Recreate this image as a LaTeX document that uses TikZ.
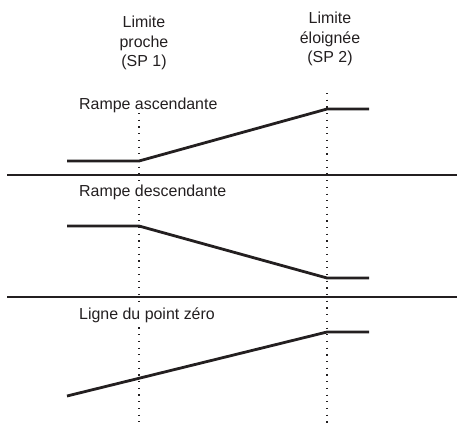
\documentclass[tikz,border=0pt]{standalone}
\usepackage{fontspec}
\setmainfont{Liberation Sans}
\usepackage{xcolor}
\usepackage{tikz}
\usetikzlibrary{positioning}
\definecolor{ink}{HTML}{231F20}

\begin{document}
\begin{tikzpicture}[x=1bp,y=-1bp, color=ink, font=\fontsize{16}{19.5}\selectfont]
	\tikzstyle{ramp}=[line width=2.8bp, line join=round]
	\tikzstyle{guide}=[line width=1.3bp, dash pattern=on 1.2bp off 5.5bp]
	\tikzstyle{sep}=[line width=1.2bp]
	\tikzstyle{lbl}=[anchor=west, fill=white, inner sep=1bp]
	\tikzstyle{hdr}=[align=center, inner sep=0pt]
	\useasboundingbox (0,0) rectangle (457,428);

	% the two limits
	\node[hdr] (near) at (144,43) {Limite\\proche\\(SP 1)};
	\node[hdr] (far) at (330,39) {Limite\\éloignée\\(SP 2)};
	\coordinate (n1) at (139,113);
	\coordinate (n2) at (139,424);
	\coordinate (f1) at (327,93);
	\coordinate (f2) at (327,424);
	\draw[guide] (n1) -- (n2);
	\draw[guide] (f1) -- (f2);

	% separators
	\coordinate (s1l) at (7,175);
	\coordinate (s1r) at (457,175);
	\coordinate (s2l) at (7,297);
	\coordinate (s2r) at (457,297);
	\draw[sep] (s1l) -- (s1r);
	\draw[sep] (s2l) -- (s2r);

	% captions
	\node[lbl] (up) at (78,105) {Rampe ascendante};
	\node[lbl] (down) at (78,192) {Rampe descendante};
	\node[lbl] (zero) at (78,315) {Ligne du point zéro};

	% rising ramp
	\coordinate (a0) at (67,161);
	\coordinate (a1) at (139,161);
	\coordinate (a2) at (327,109);
	\coordinate (a3) at (369,109);
	\draw[ramp] (a0) -- (a1) -- (a2) -- (a3);

	% falling ramp
	\coordinate (d0) at (67,226);
	\coordinate (d1) at (139,226);
	\coordinate (d2) at (327,278);
	\coordinate (d3) at (369,278);
	\draw[ramp] (d0) -- (d1) -- (d2) -- (d3);

	% zero point line
	\coordinate (z0) at (67,396);
	\coordinate (z1) at (327,332);
	\coordinate (z2) at (369,332);
	\draw[ramp] (z0) -- (z1) -- (z2);
\end{tikzpicture}
\end{document}
